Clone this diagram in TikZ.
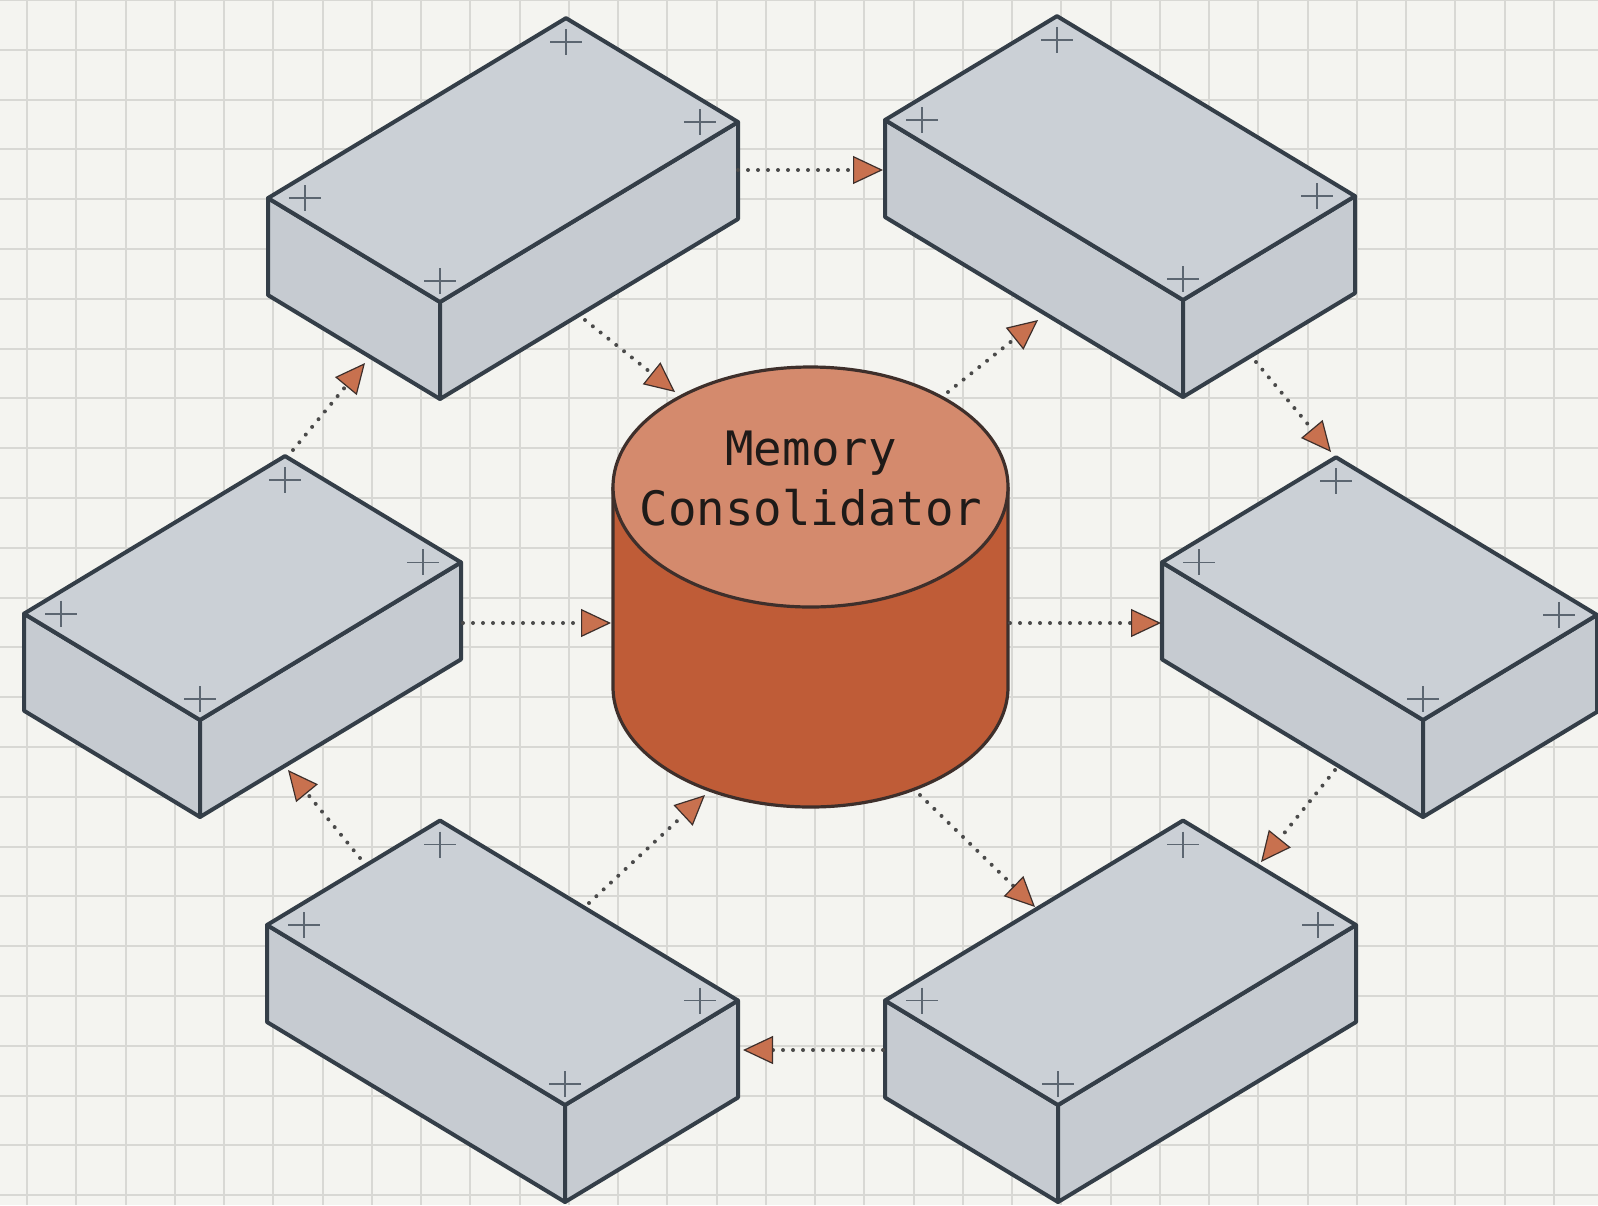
\documentclass[tikz,border=0pt]{standalone}
\usepackage{fontspec}
\newfontfamily\labelmono{DejaVu Sans Mono}
\usetikzlibrary{arrows.meta,calc}
\definecolor{paper}{HTML}{F4F4F0}
\definecolor{gridline}{HTML}{D8D8D4}
\definecolor{boxside}{HTML}{C6CBD1}
\definecolor{boxtop}{HTML}{CBD0D6}
\definecolor{boxedge}{HTML}{343E48}
\definecolor{crossmark}{HTML}{5C6671}
\definecolor{cylbody}{HTML}{BF5C37}
\definecolor{cyltop}{HTML}{D48A6D}
\definecolor{cyledge}{HTML}{3E2F2B}
\definecolor{tipfill}{HTML}{C8714F}
\definecolor{flowline}{HTML}{4A4A4A}
\definecolor{labeltext}{HTML}{1E1A18}
\tikzset{
  isofig/.style={x=0.5pt,y=-0.5pt,line join=round},
  gridln/.style={draw=gridline,line width=1pt},
  sideface/.style={fill=boxside,draw=boxedge,line width=2pt},
  topface/.style={fill=boxtop,draw=boxedge,line width=2pt},
  crossmk/.style={draw=crossmark,line width=0.8pt},
  flow/.style={draw=flowline,line width=2pt,line cap=round,
    dash pattern=on 0pt off 5pt,
    -{Triangle[length=15pt,width=14pt,fill=tipfill,color=cyledge,
      line width=0.6pt]}},
  dblabel/.style={font=\labelmono\fontsize{23.7}{30}\selectfont,
    align=center,text=labeltext,inner sep=0pt},
}
% small + mark on a top face
\newcommand{\plusmark}[1]{%
  \draw[crossmk] ($#1+(-16,0)$) -- ++(32,0) ($#1+(0,-13)$) -- ++(0,26);}
% isometric block: name, front corner, left run, right run
\newcommand{\isobox}[4]{%
  \coordinate (#1-f) at #2;
  \coordinate (#1-lf) at ($(#1-f)+(-#3,{-0.604*#3})$);
  \coordinate (#1-rt) at ($(#1-f)+(#4,{-0.604*#4})$);
  \coordinate (#1-bk) at ($(#1-lf)+(#4,{-0.604*#4})$);
  \filldraw[sideface] (#1-lf) -- (#1-f) -- ++(0,97) -- ($(#1-lf)+(0,97)$) -- cycle;
  \filldraw[sideface] (#1-f) -- (#1-rt) -- ++(0,97) -- ($(#1-f)+(0,97)$) -- cycle;
  \filldraw[topface] (#1-bk) -- (#1-rt) -- (#1-f) -- (#1-lf) -- cycle;
  \plusmark{(#1-bk)+(0,24)}
  \plusmark{(#1-f)+(0,-21)}
  \plusmark{(#1-lf)+(37,0)}
  \plusmark{(#1-rt)+(-38,0)}
}

\begin{document}
\begin{tikzpicture}[isofig]
  \useasboundingbox (0,0) rectangle (1598,1205);
  \clip (0,0) rectangle (1598,1205);
  \fill[paper] (0,0) rectangle (1598,1205);
  \foreach \gx in {0,...,32}
    \draw[gridln] ({27+49.25*\gx},0) -- ++(0,1205);
  \foreach \gy in {0,...,24}
    \draw[gridln] (0,{49.8*\gy}) -- ++(1598,0);

  % the six blocks
  \isobox{nw}{(440,302)}{172}{298}
  \isobox{ne}{(1183,300)}{298}{172}
  \isobox{w}{(200,720)}{176}{261}
  \isobox{e}{(1423,720)}{261}{174}
  \isobox{sw}{(565,1105)}{298}{173}
  \isobox{se}{(1058,1105)}{173}{298}

  % central store
  \fill[cylbody] (613,487) rectangle (1008,687);
  \fill[cylbody] (810.5,687) ellipse [x radius=197.5,y radius=120];
  \draw[cyledge,line width=1.6pt] (613,487) -- (613,687)
    arc[start angle=180,end angle=0,x radius=197.5,y radius=120]
    -- (1008,487);
  \filldraw[fill=cyltop,draw=cyledge,line width=1.6pt]
    (810.5,487) ellipse [x radius=197.5,y radius=120];
  \node[dblabel] (consolidator) at (811,479) {Memory\\Consolidator};

  % connector ends
  \coordinate (nw-r) at (738,170);   \coordinate (ne-l) at (883,170);
  \coordinate (nw-c) at (585,320);   \coordinate (db-nw) at (675,392);
  \coordinate (db-ne) at (948,392);  \coordinate (ne-c) at (1038,320);
  \coordinate (ne-d) at (1256,362);  \coordinate (e-t) at (1331,452);
  \coordinate (w-t) at (293,450);    \coordinate (nw-d) at (365,363);
  \coordinate (w-r) at (463,623);    \coordinate (db-w) at (611,623);
  \coordinate (db-e) at (1010,623);  \coordinate (e-l) at (1161,623);
  \coordinate (e-d) at (1335,770);   \coordinate (se-t) at (1261,862);
  \coordinate (sw-t) at (360,858);   \coordinate (w-d) at (288,770);
  \coordinate (sw-c) at (589,903);   \coordinate (db-sw) at (705,795);
  \coordinate (db-se) at (920,795);  \coordinate (se-c) at (1035,907);
  \coordinate (se-l) at (883,1050);  \coordinate (sw-r) at (743,1050);

  \foreach \a/\b in {nw-r/ne-l,nw-c/db-nw,db-ne/ne-c,ne-d/e-t,w-t/nw-d,
      w-r/db-w,db-e/e-l,e-d/se-t,sw-t/w-d,sw-c/db-sw,db-se/se-c,se-l/sw-r}
    \draw[flow] (\a) -- (\b);
\end{tikzpicture}
\end{document}
